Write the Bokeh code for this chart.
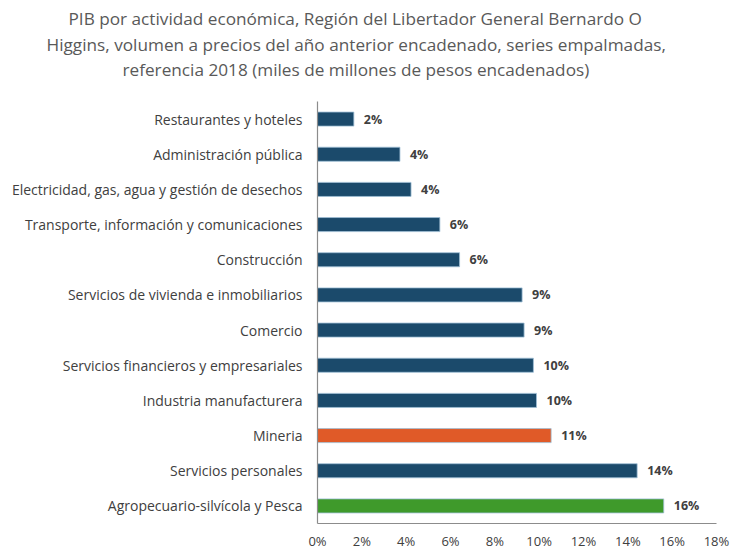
from bokeh.plotting import figure
from bokeh.models import FactorRange, Range1d, ColumnDataSource, Title, NumeralTickFormatter, FixedTicker, LabelSet
from bokeh.embed import file_html
from bokeh.resources import INLINE
from bokeh.core.properties import value

categories = [
    "Restaurantes y hoteles",
    "Administración pública",
    "Electricidad, gas, agua y gestión de desechos",
    "Transporte, información y comunicaciones",
    "Construcción",
    "Servicios de vivienda e inmobiliarios",
    "Comercio",
    "Servicios financieros y empresariales",
    "Industria manufacturera",
    "Mineria",
    "Servicios personales",
    "Agropecuario-silvícola y Pesca",
]
shares = [0.0164, 0.0372, 0.0422, 0.0552, 0.0641, 0.0923, 0.0932, 0.0974, 0.0988, 0.1054, 0.1442, 0.1562]
colors = ["#1b4a6b"] * 9 + ["#e05a28", "#1b4a6b", "#3f9a2b"]
x_ticks = [0, 0.02, 0.04, 0.06, 0.08, 0.10, 0.12, 0.14, 0.16, 0.18]
title_lines = [
    "PIB por actividad económica, Región del Libertador General Bernardo O",
    "Higgins, volumen a precios del año anterior encadenado, series empalmadas,",
    "referencia 2018 (miles de millones de pesos encadenados)",
]

labels = ["%d%%" % round(v * 100) for v in shares]
src = ColumnDataSource(dict(cat=categories, val=shares, col=colors, lab=labels))

FONT = "Open Sans"
W, H = 732, 552
FL, FR, FT, FB = 317, 16, 0, 28
p = figure(width=W, height=H, output_backend="svg", toolbar_location=None,
           y_range=FactorRange(factors=categories[::-1], range_padding=0),
           x_range=Range1d(0, 0.18),
           min_border_left=FL, min_border_right=FR, min_border_bottom=FB, min_border_top=FT)

p.hbar(y="cat", right="val", left=0, height=0.4, source=src, fill_color="col",
       line_color="#9fbfd6", line_width=0.8)

p.add_layout(LabelSet(x="val", y="cat", text="lab", source=src, x_offset=10, y_offset=0,
                      text_baseline="middle", text_font=value(FONT), text_font_size="12.5px",
                      text_color="#404040", text_font_style="bold"))

# spacer between title block and plot frame (closest to the frame)
p.add_layout(Title(text=" ", text_font=FONT, text_font_size="17.2px", standoff=-11,
                   text_line_height=1.0), "above")
# titles: added bottom line first (closest to the frame)
lefts = [68, 46, 122]
standoffs = [10.4, -10.2, 12.4]
for i in (2, 1, 0):
    p.add_layout(Title(text=title_lines[i], align="left", offset=lefts[i] - FL,
                       text_font=FONT, text_font_size="17.2px", text_font_style="normal",
                       text_color="#595959", standoff=standoffs[i], text_line_height=1.0),
                 "above")

p.xaxis.ticker = FixedTicker(ticks=x_ticks)
p.xaxis.formatter = NumeralTickFormatter(format="0%")
for ax in (p.xaxis, p.yaxis):
    ax.axis_line_color = "#8c8c8c"
    ax.axis_line_width = 1.2
    ax.major_tick_line_color = None
    ax.minor_tick_line_color = None
    ax.major_tick_out = 0
    ax.major_tick_in = 0
    ax.minor_tick_out = 0
    ax.minor_tick_in = 0
    ax.major_label_text_font = FONT
    ax.major_label_text_color = "#404040"
p.xaxis.major_label_text_font_size = "13px"
p.yaxis.major_label_text_font_size = "14px"
p.xaxis.major_label_standoff = 8
p.yaxis.major_label_standoff = 15
p.xgrid.visible = False
p.ygrid.visible = False
p.outline_line_color = None

open("out.html", "w").write(file_html(p, INLINE))
